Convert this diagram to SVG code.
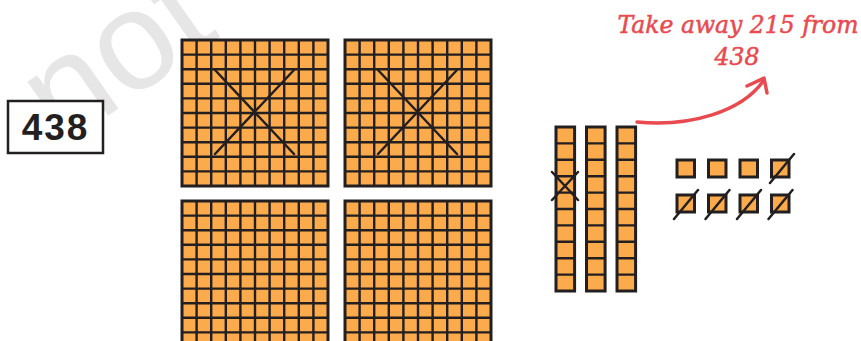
<svg xmlns="http://www.w3.org/2000/svg" width="861" height="341" viewBox="0 0 861 341">
<style>
.blk{fill:#fbab4b;stroke:#231f20;stroke-width:3}
.grid{fill:none;stroke:#231f20;stroke-width:2.4}
.x{fill:none;stroke:#231f20;stroke-width:2.5;stroke-linecap:round}
.red{fill:none;stroke:#e84a50;stroke-width:3.5;stroke-linecap:round;stroke-linejoin:round}
.lbl{font-family:"DejaVu Serif",serif;font-style:italic;font-size:23.5px;fill:#e84a50;stroke:#e84a50;stroke-width:0.5;text-anchor:middle}
</style>
<defs>
<symbol id="hundred" overflow="visible">
<rect class="blk" x="0" y="0" width="146" height="146"/>
<path class="grid" d="M14.6 0V146M29.2 0V146M43.8 0V146M58.4 0V146M73 0V146M87.6 0V146M102.2 0V146M116.8 0V146M131.4 0V146M0 14.6H146M0 29.2H146M0 43.8H146M0 58.4H146M0 73H146M0 87.6H146M0 102.2H146M0 116.8H146M0 131.4H146"/>
</symbol>
<symbol id="ten" overflow="visible">
<rect class="blk" x="0" y="0" width="18.6" height="164"/>
<path class="grid" d="M0 16.4H18.6M0 32.8H18.6M0 49.2H18.6M0 65.6H18.6M0 82H18.6M0 98.4H18.6M0 114.8H18.6M0 131.2H18.6M0 147.6H18.6"/>
</symbol>
<symbol id="one" overflow="visible">
<rect class="blk" x="0" y="0" width="17.5" height="17" stroke-width="2.5"/>
</symbol>
</defs>

<g id="watermark">
<text x="62" y="148" transform="rotate(-35 62 148)" font-family="'Liberation Sans',sans-serif" font-size="140" fill="#e6e6e6">not</text>
</g>

<g id="number-box">
<rect x="8" y="101" width="95" height="52" fill="#fff" stroke="#231f20" stroke-width="2.5"/>
<text x="55.5" y="140" font-family="'Liberation Sans',sans-serif" font-weight="bold" font-size="37" letter-spacing="2" text-anchor="middle" fill="#231f20">438</text>
</g>

<g id="hundred-1">
<use href="#hundred" x="182" y="40"/>
<path class="x" d="M215 70L294 154M294 70L215 154"/>
</g>
<g id="hundred-2">
<use href="#hundred" x="345" y="40"/>
<path class="x" d="M378 70L457 154M457 70L378 154"/>
</g>
<g id="hundred-3"><use href="#hundred" x="182" y="201"/></g>
<g id="hundred-4"><use href="#hundred" x="345" y="201"/></g>

<g id="ten-1">
<use href="#ten" x="556" y="127"/>
<path class="x" d="M552 172L578 200M578 172L552 200"/>
</g>
<g id="ten-2"><use href="#ten" x="586.5" y="127"/></g>
<g id="ten-3"><use href="#ten" x="617" y="127"/></g>

<g id="ones">
<use href="#one" x="677" y="160"/>
<use href="#one" x="708.5" y="160"/>
<use href="#one" x="740" y="160"/>
<use href="#one" x="771.5" y="160"/>
<use href="#one" x="677" y="195"/>
<use href="#one" x="708.5" y="195"/>
<use href="#one" x="740" y="195"/>
<use href="#one" x="771.5" y="195"/>
<path class="x" d="M770 183L794 154M674 219L698 190M705.5 219L729.5 190M737 219L761 190M768.5 219L792.5 190"/>
</g>

<g id="label">
<text class="lbl" x="738" y="33">Take away 215 from</text>
<text class="lbl" x="737" y="65">438</text>
</g>

<g id="connectors">
<path class="red" d="M637 122C690 127 742 112 764 80"/>
<path class="red" d="M747 86L764 78L767 93"/>
</g>
</svg>
